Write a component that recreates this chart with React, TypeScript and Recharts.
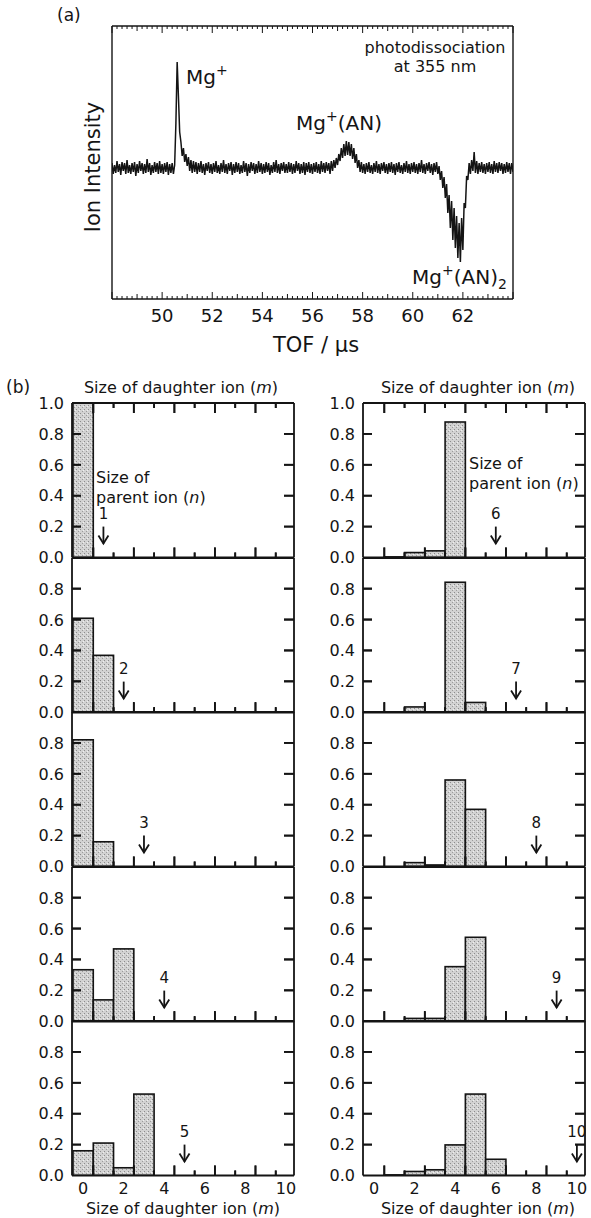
import React from 'react'
import { ComposedChart, LineChart, Line, Bar, XAxis, YAxis, ReferenceDot } from 'recharts'

const FONT = "'DejaVu Sans', Verdana, sans-serif"
const INK = '#141414'

// (a) TOF trace, one reading every 0.05 us starting at 48.0 us (one row per us)
const tofStart = 48
const tofStep = 0.05
const ionIntensity = [
  0.05, -0.06, 0.03, -0.05, 0.07, -0.04, 0.04, -0.07, 0.06, -0.03, 0.05, -0.06, 0.08, -0.05, 0.03, -0.06, 0.05, -0.04, 0.06, -0.08,
  0.04, -0.05, 0.07, -0.03, 0.05, -0.06, 0.04, -0.05, 0.09, -0.04, 0.05, -0.07, 0.03, -0.05, 0.06, -0.04, 0.05, -0.06, 0.07, -0.05,
  0.04, -0.06, 0.05, -0.04, 0.06, -0.07, 0.04, -0.05, 0.05, -0.06, 0.03, 0.45, 1.06, 0.72, 0.36, 0.26, 0.12, 0.2, 0.06, 0.14,
  0.02, 0.11, -0.03, 0.08, -0.05, 0.07, -0.04, 0.06, -0.06, 0.05, -0.04, 0.07, -0.05, 0.04, -0.07, 0.05, -0.03, 0.06, -0.05, 0.04,
  -0.06, 0.05, -0.04, 0.07, -0.05, 0.03, -0.06, 0.05, -0.04, 0.08, -0.05, 0.04, -0.06, 0.05, -0.03, 0.06, -0.07, 0.04, -0.05, 0.06,
  -0.04, 0.05, -0.06, 0.03, -0.05, 0.07, -0.04, 0.05, -0.08, 0.04, -0.05, 0.06, -0.03, 0.05, -0.06, 0.04, -0.05, 0.07, -0.04, 0.05,
  -0.06, 0.04, -0.05, 0.06, -0.04, 0.05, -0.07, 0.03, -0.05, 0.06, -0.04, 0.08, -0.05, 0.04, -0.06, 0.05, -0.03, 0.06, -0.05, 0.04,
  -0.05, 0.06, -0.04, 0.05, -0.06, 0.04, -0.05, 0.07, -0.03, 0.05, -0.06, 0.04, -0.05, 0.06, -0.07, 0.05, -0.04, 0.06, -0.05, 0.04,
  -0.06, 0.05, -0.04, 0.06, -0.05, 0.04, -0.06, 0.07, -0.04, 0.05, -0.05, 0.06, -0.03, 0.05, -0.06, 0.07, -0.03, 0.08, 0.0, 0.1,
  0.03, 0.14, 0.07, 0.2, 0.1, 0.24, 0.12, 0.27, 0.13, 0.26, 0.12, 0.24, 0.09, 0.2, 0.05, 0.14, 0.0, 0.08, -0.04, 0.06,
  -0.05, 0.04, -0.06, 0.05, -0.04, 0.06, -0.05, 0.03, -0.06, 0.05, -0.04, 0.07, -0.05, 0.04, -0.06, 0.05, -0.03, 0.06, -0.05, 0.04,
  -0.06, 0.05, -0.04, 0.06, -0.05, 0.04, -0.07, 0.05, -0.04, 0.06, -0.05, 0.03, -0.06, 0.05, -0.04, 0.07, -0.05, 0.04, -0.06, 0.05,
  -0.04, 0.06, -0.05, 0.04, -0.06, 0.05, -0.04, 0.08, -0.05, 0.04, -0.06, 0.05, -0.03, 0.06, -0.05, 0.04, -0.07, 0.05, -0.04, 0.06,
  -0.06, 0.02, -0.12, -0.03, -0.2, -0.09, -0.3, -0.16, -0.45, -0.27, -0.6, -0.33, -0.72, -0.4, -0.8, -0.48, -0.9, -0.55, -0.94, -0.5,
  -0.82, -0.35, -0.4, -0.08, -0.12, 0.05, -0.06, 0.08, -0.03, 0.16, -0.05, 0.07, -0.06, 0.05, -0.04, 0.06, -0.05, 0.04, -0.06, 0.05,
  -0.04, 0.06, -0.05, 0.04, -0.06, 0.07, -0.04, 0.05, -0.05, 0.06, -0.03, 0.05, -0.06, 0.04, -0.05, 0.06, -0.04, 0.05, -0.06, 0.05,
  -0.04,
]
const tofLabels = [50, 52, 54, 56, 58, 60, 62]

// (b) fraction of each daughter size m, one list per parent size n
const daughterSizes = [0, 1, 2, 3, 4, 5, 6, 7, 8, 9, 10]
const fracN1 = [1.0]
const fracN2 = [0.61, 0.37]
const fracN3 = [0.82, 0.16]
const fracN4 = [0.335, 0.14, 0.47]
const fracN5 = [0.16, 0.21, 0.05, 0.527]
const fracN6 = [0, 0.004, 0.032, 0.043, 0.877]
const fracN7 = [0, 0.004, 0.036, 0.004, 0.843, 0.065]
const fracN8 = [0, 0, 0.025, 0.01, 0.56, 0.37]
const fracN9 = [0, 0, 0.02, 0.02, 0.355, 0.545]
const fracN10 = [0, 0.004, 0.026, 0.037, 0.198, 0.527, 0.105]
const parentSizes = [1, 2, 3, 4, 5, 6, 7, 8, 9, 10]
const fractionTicks = [0, 0.2, 0.4, 0.6, 0.8, 1.0]
const daughterLabels = [0, 2, 4, 6, 8, 10]

const allFractions = [fracN1, fracN2, fracN3, fracN4, fracN5, fracN6, fracN7, fracN8, fracN9, fracN10]

// layout
const A_LEFT = 112
const A_RIGHT = 513
const A_TOP = 26
const A_BOTTOM = 299
const TOF_DOMAIN: [number, number] = [48, 64]
const SIGNAL_DOMAIN: [number, number] = [-1.31, 1.42]

const COL_LEFT = [72, 363]
const COL_BOX = [0, 290]
const PANEL_W = 222
const PANEL_TOP = 403
const PANEL_H = 154.5
const M_DOMAIN: [number, number] = [-0.55, 10.4]
const UNIT = PANEL_W / (M_DOMAIN[1] - M_DOMAIN[0])
const ARROW_TIP = 0.09

// axes need a non-zero size to be drawn; this 1px is taken off the margins
const AX = 1

const tofTickPositions: number[] = []
for (let k = 0; k <= 80; k++) tofTickPositions.push(Math.round((TOF_DOMAIN[0] + k * 0.2) * 10) / 10)
// inner tick marks of (b) sit on the bar edges
const mEdges = [0.5, 1.5, 2.5, 3.5, 4.5, 5.5, 6.5, 7.5, 8.5, 9.5]
const innerFractions = [0.2, 0.4, 0.6, 0.8]

const frameA = { stroke: INK, strokeWidth: 1.4 }
const frameB = { stroke: INK, strokeWidth: 1.8 }

function TofTick(props: any) {
  const { x, y, payload, side } = props
  const v = payload.value
  const isInt = Math.abs(v - Math.round(v)) < 1e-6
  const len = isInt ? (Math.round(v) % 2 === 0 ? 7 : 5) : 3
  const dir = side === 'top' ? 1 : -1
  const showLabel = side === 'bottom' && isInt && tofLabels.includes(Math.round(v))
  return (
    <g>
      <line x1={x} x2={x} y1={y} y2={y + dir * len} stroke={INK} strokeWidth={1} />
      {showLabel && (
        <text x={x} y={y + 17} dy="0.36em" textAnchor="middle" fontSize={18} fontFamily={FONT} fill={INK}>
          {Math.round(v)}
        </text>
      )}
    </g>
  )
}

function MLabel(props: any) {
  const { x, y, payload, labels } = props
  if (!labels) return <g />
  return (
    <text x={x} y={y + 13} dy="0.36em" textAnchor="middle" fontSize={16} fontFamily={FONT} fill={INK}>
      {payload.value}
    </text>
  )
}

function FracLabel(props: any) {
  const { x, y, payload, showTop } = props
  const v = payload.value
  if (v > 0.99 && !showTop) return <g />
  return (
    <text x={x - 8} y={y} dy="0.36em" textAnchor="end" fontSize={16} fontFamily={FONT} fill={INK}>
      {v.toFixed(1)}
    </text>
  )
}

// inward tick marks of one (b) panel, from the plot's lower-left corner (x0, y0),
// laid out with the same linear mapping as the panel's axes
function tickLines(x0: number, y0: number, withTop: boolean, keyBase: string) {
  const xr = x0 + PANEL_W
  const yt = y0 - PANEL_H
  const lines: React.ReactNode[] = []
  mEdges.forEach((e, k) => {
    const x = x0 + (e - M_DOMAIN[0]) * UNIT
    const len = k % 2 === 0 ? 10 : 5
    lines.push(<line key={keyBase + 'b' + k} x1={x} x2={x} y1={y0} y2={y0 - len} />)
    if (withTop) lines.push(<line key={keyBase + 't' + k} x1={x} x2={x} y1={yt} y2={yt + len} />)
  })
  innerFractions.forEach((f, k) => {
    const y = y0 - f * PANEL_H
    lines.push(<line key={keyBase + 'l' + k} x1={x0} x2={x0 + 9} y1={y} y2={y} />)
    lines.push(<line key={keyBase + 'r' + k} x1={xr} x2={xr - 10} y1={y} y2={y} />)
  })
  return lines
}

const ANCHOR_M = 0
const ANCHOR_F = 0.5
function frameTicks(withTop: boolean) {
  return (p: any) => (
    <g stroke={INK} strokeWidth={1.8}>
      {tickLines(p.cx - (ANCHOR_M - M_DOMAIN[0]) * UNIT, p.cy + ANCHOR_F * PANEL_H, withTop, 'd')}
    </g>
  )
}

function barShape(props: any) {
  const { x, y, width, height, payload } = props
  if (payload == null || payload.frac == null) return <g />
  const cx = x + width / 2
  return (
    <rect x={cx - UNIT / 2} y={y} width={UNIT} height={Math.max(height, 0)}
      fill="url(#stipple)" stroke={INK} strokeWidth={1.6} />
  )
}

function arrowShape(parent: number) {
  return (props: any) => {
    const { cx, cy } = props
    return (
      <g>
        <text x={cx} y={cy - 30} dy="0.36em" textAnchor="middle" fontSize={15} fontFamily={FONT} fill={INK}>
          {parent}
        </text>
        <line x1={cx} x2={cx} y1={cy - 17} y2={cy} stroke={INK} strokeWidth={1.8} />
        <polyline points={`${cx - 5},${cy - 8} ${cx},${cy} ${cx + 5},${cy - 8}`}
          fill="none" stroke={INK} strokeWidth={1.8} />
      </g>
    )
  }
}

function FragmentPanel({ index }: { index: number }) {
  const col = index < 5 ? 0 : 1
  const row = index % 5
  const fractions = allFractions[index]
  const parent = parentSizes[index]
  const data = daughterSizes.map((m, i) => ({ m, frac: fractions[i] ? fractions[i] : null }))
  const isTop = row === 0
  const isBottom = row === 4
  const plotTop = PANEL_TOP + row * PANEL_H
  const mt = 14
  const mb = 30
  const ml = COL_LEFT[col] - COL_BOX[col]
  const mr = 6

  return (
    <div style={{ position: 'absolute', left: COL_BOX[col], top: plotTop - mt }}>
      <ComposedChart width={ml + PANEL_W + mr} height={mt + PANEL_H + mb} data={data}
        margin={{ top: mt - AX, right: mr - AX, bottom: mb - AX, left: ml - AX }}>
        <XAxis xAxisId="b" dataKey="m" type="number" domain={M_DOMAIN} allowDataOverflow
          ticks={daughterLabels} interval={0} height={AX} tickSize={0} tickMargin={0}
          tickLine={false} axisLine={frameB} tick={<MLabel labels={isBottom} />} />
        <XAxis xAxisId="t" orientation="top" dataKey="m" type="number" domain={M_DOMAIN} allowDataOverflow
          height={AX} tick={false} tickLine={false} axisLine={frameB} />
        <YAxis yAxisId="l" type="number" domain={[0, 1]} allowDataOverflow ticks={fractionTicks}
          interval={0} width={AX} tickSize={0} tickMargin={0} tickLine={false} axisLine={frameB}
          tick={<FracLabel showTop={isTop} />} />
        <YAxis yAxisId="r" orientation="right" type="number" domain={[0, 1]} allowDataOverflow
          width={AX} tick={false} tickLine={false} axisLine={frameB} />
        <Bar xAxisId="b" yAxisId="l" dataKey="frac" barSize={UNIT} shape={barShape}
          isAnimationActive={false} />
        <ReferenceDot xAxisId="b" yAxisId="l" x={ANCHOR_M} y={ANCHOR_F} ifOverflow="visible"
          shape={frameTicks(isTop)} />
        <ReferenceDot xAxisId="b" yAxisId="l" x={parent} y={ARROW_TIP} ifOverflow="visible"
          shape={arrowShape(parent)} />
      </ComposedChart>
    </div>
  )
}

export default function App() {
  const traceData = ionIntensity.map((signal, i) => ({
    tof: Math.round((tofStart + i * tofStep) * 100) / 100,
    signal,
  }))

  const txt = { fontFamily: FONT, fill: INK }

  return (
    <div style={{ position: 'absolute', left: 0, top: 0, width: 591, height: 1218, background: '#fff', overflow: 'hidden', fontFamily: FONT }}>
      <div style={{ position: 'absolute', left: 0, top: 0 }}>
        <LineChart width={591} height={360} data={traceData}
          margin={{ top: A_TOP - AX, left: A_LEFT - AX, right: 591 - A_RIGHT - AX, bottom: 360 - A_BOTTOM - AX }}>
          <XAxis xAxisId="b" dataKey="tof" type="number" domain={TOF_DOMAIN} allowDataOverflow
            ticks={tofTickPositions} interval={0} height={AX} tickSize={0} tickMargin={0}
            tickLine={false} axisLine={frameA} tick={<TofTick side="bottom" />} />
          <XAxis xAxisId="t" orientation="top" dataKey="tof" type="number" domain={TOF_DOMAIN} allowDataOverflow
            ticks={tofTickPositions} interval={0} height={AX} tickSize={0} tickMargin={0}
            tickLine={false} axisLine={frameA} tick={<TofTick side="top" />} />
          <YAxis yAxisId="l" type="number" domain={SIGNAL_DOMAIN} allowDataOverflow width={AX}
            tick={false} tickLine={false} axisLine={frameA} />
          <YAxis yAxisId="r" orientation="right" type="number" domain={SIGNAL_DOMAIN} allowDataOverflow
            width={AX} tick={false} tickLine={false} axisLine={frameA} />
          <Line xAxisId="b" yAxisId="l" type="linear" dataKey="signal" stroke={INK}
            strokeWidth={1.5} strokeLinejoin="miter" dot={false} isAnimationActive={false} />
        </LineChart>
      </div>

      {daughterSizes.slice(0, 10).map((_, i) => (
        <FragmentPanel key={i} index={i} />
      ))}

      <svg width={591} height={1218} style={{ position: 'absolute', left: 0, top: 0, pointerEvents: 'none' }}>
        <defs>
          <pattern id="stipple" width="4" height="4" patternUnits="userSpaceOnUse">
            <rect width="4" height="4" fill="#d2d2d2" />
            <rect x="0" y="0" width="1" height="1" fill="#8c8c8c" />
            <rect x="2" y="2" width="1" height="1" fill="#9c9c9c" />
            <rect x="3" y="1" width="1" height="1" fill="#f0f0f0" />
          </pattern>
        </defs>

        {/* the same inner ticks on the page layer, so they show whatever the chart layer does */}
        <g stroke={INK} strokeWidth={1.8}>
          {allFractions.map((_, idx) => {
            const col = idx < 5 ? 0 : 1
            const row = idx % 5
            return tickLines(COL_LEFT[col], PANEL_TOP + (row + 1) * PANEL_H, row === 0, 'p' + idx)
          })}
        </g>

        <text x={57} y={21} fontSize={17} {...txt}>(a)</text>
        <text x={435} y={47} dy="0.36em" textAnchor="middle" fontSize={16} {...txt}>photodissociation</text>
        <text x={435} y={66} dy="0.36em" textAnchor="middle" fontSize={16} {...txt}>at 355 nm</text>
        <text x={186} y={84} fontSize={20} {...txt}>
          Mg<tspan dy={-9} fontSize={14}>+</tspan>
        </text>
        <text x={296} y={130} fontSize={20} {...txt}>
          Mg<tspan dy={-9} fontSize={14}>+</tspan><tspan dy={9}>(AN)</tspan>
        </text>
        <text x={412} y={284} fontSize={20} {...txt}>
          Mg<tspan dy={-9} fontSize={14}>+</tspan><tspan dy={9}>(AN)</tspan><tspan dy={5} fontSize={14}>2</tspan>
        </text>
        <text transform="translate(92,167) rotate(-90)" dy="0.36em" textAnchor="middle" fontSize={21} {...txt}>
          Ion Intensity
        </text>
        <text x={316} y={344} dy="0.36em" textAnchor="middle" fontSize={21} {...txt}>TOF / μs</text>

        <text x={6} y={387} dy="0.36em" fontSize={17} {...txt}>(b)</text>
        {[181, 478].map((cx) => (
          <text key={'t' + cx} x={cx} y={387} dy="0.36em" textAnchor="middle" fontSize={16} {...txt}>
            Size of daughter ion (<tspan fontStyle="italic">m</tspan>)
          </text>
        ))}
        {[183, 478].map((cx) => (
          <text key={'b' + cx} x={cx} y={1208} dy="0.36em" textAnchor="middle" fontSize={16} {...txt}>
            Size of daughter ion (<tspan fontStyle="italic">m</tspan>)
          </text>
        ))}
        <text x={96} y={477} dy="0.36em" fontSize={16} {...txt}>Size of</text>
        <text x={96} y={497} dy="0.36em" fontSize={16} {...txt}>
          parent ion (<tspan fontStyle="italic">n</tspan>)
        </text>
        <text x={469} y={463} dy="0.36em" fontSize={16} {...txt}>Size of</text>
        <text x={469} y={483} dy="0.36em" fontSize={16} {...txt}>
          parent ion (<tspan fontStyle="italic">n</tspan>)
        </text>
      </svg>
    </div>
  )
}
